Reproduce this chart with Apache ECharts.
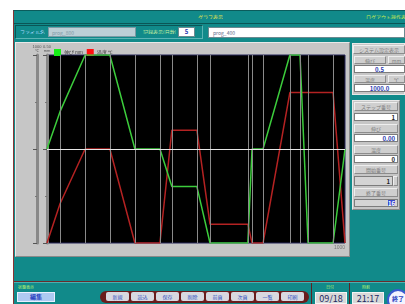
<!DOCTYPE html>
<html>
<head>
<meta charset="utf-8">
<script src="https://cdn.jsdelivr.net/npm/echarts@6/dist/echarts.min.js"></script>
<style>
	html, body { margin: 0; padding: 0; width: 405px; height: 304px; overflow: hidden; background: #fff; }
	body { font-family: "Noto Sans CJK JP", "Noto Sans", sans-serif; position: relative; }
	.a { position: absolute; box-sizing: border-box; white-space: nowrap; overflow: hidden; line-height: 1; }
	.btn { background: #cfcfcf; border: 1px solid #8c8c8c; border-top-color: #eee; border-left-color: #eee; color: #7a7a7a; font-size: 5px; text-align: center; padding-top: 1px; }
	.val { background: #fff; border: 1px solid #7c7c7c; color: #2a3ab0; font-size: 6px; font-weight: bold; padding-top: 1px; }
	.pill { top: 1px; height: 9px; width: 23px; background: #d8d8e0; border-radius: 2px; color: #3050c0; font-size: 5px; text-align: center; padding-top: 2px; }
</style>
</head>
<body>
	<div class="a" style="left:13px;top:10px;width:392px;height:294px;background:#118a8a;border-left:1px solid #8a3434;border-top:1px solid #0b5c5c;"></div>
	<!-- title bar -->
	<div class="a" style="left:14px;top:11px;width:391px;height:13px;border-bottom:1px solid #0a5656;"></div>
	<div class="a" style="left:198px;top:14px;font-size:5px;color:#e4e44c;">グラフ表示</div>
	<div class="a" style="left:366px;top:14px;font-size:5px;color:#c8ec50;">ログアウト操作表示</div>
	<!-- file row -->
	<div class="a" style="left:15px;top:25px;width:188px;height:14px;border:1px solid #0a5656;border-right-color:#5ab4b4;border-bottom-color:#5ab4b4;"></div>
	<div class="a" style="left:20px;top:29px;font-size:5px;color:#a8d8ff;">ファイル名</div>
	<div class="a" style="left:48px;top:27px;width:88px;height:10px;background:#bccfd6;border:1px solid #7a9aa4;font-size:5px;color:#7c98a6;padding:2px 0 0 3px;">prog_800</div>
	<div class="a" style="left:143px;top:29px;font-size:5px;color:#c8f0a0;">記録表示(日数)</div>
	<div class="a" style="left:178px;top:27px;width:17px;height:10px;background:#fff;border:1px solid #6a8a90;font-size:6px;font-weight:bold;color:#2a3ab0;text-align:center;padding-top:1px;">5</div>
	<div class="a" style="left:208px;top:27px;width:197px;height:11px;background:#fff;border:1px solid #6a8a90;font-size:5px;color:#5a6a8a;padding:2px 0 0 4px;">prog_400</div>
	<!-- chart panel -->
	<div class="a" style="left:15px;top:42px;width:335px;height:215px;background:#c6c6c6;border:1px solid #8a8a8a;border-top-color:#e8e8e8;border-left-color:#e8e8e8;"></div>
	<div id="chart" class="a" style="left:15px;top:42px;width:334px;height:214px;"></div>
	<!-- right panel: system settings -->
	<div class="a" style="left:352px;top:43px;width:53px;height:52px;background:#c6c6c6;border:1px solid #e8e8e8;"></div>
	<div class="a btn" style="left:353px;top:45px;width:52px;height:9px;">システム設定表示</div>
	<div class="a btn" style="left:354px;top:56px;width:32px;height:8px;">伸び</div>
	<div class="a btn" style="left:388px;top:56px;width:17px;height:8px;">mm</div>
	<div class="a val" style="left:354px;top:65px;width:51px;height:8px;text-align:center;">0.5</div>
	<div class="a btn" style="left:354px;top:75px;width:32px;height:8px;">温度</div>
	<div class="a btn" style="left:388px;top:75px;width:17px;height:8px;">℃</div>
	<div class="a val" style="left:354px;top:84px;width:51px;height:8px;text-align:center;">1000.0</div>
	<!-- right panel: step -->
	<div class="a" style="left:352px;top:100px;width:48px;height:110px;background:#c6c6c6;border:1px solid #e8e8e8;border-right-color:#888;border-bottom-color:#888;"></div>
	<div class="a btn" style="left:354px;top:102px;width:44px;height:9px;">ステップ番号</div>
	<div class="a val" style="left:354px;top:113px;width:44px;height:8px;text-align:right;padding-right:2px;color:#222;">1</div>
	<div class="a btn" style="left:354px;top:124px;width:44px;height:9px;">伸び</div>
	<div class="a val" style="left:354px;top:134px;width:44px;height:8px;text-align:right;padding-right:2px;">0.00</div>
	<div class="a btn" style="left:354px;top:145px;width:44px;height:9px;">温度</div>
	<div class="a val" style="left:354px;top:155px;width:44px;height:8px;text-align:right;padding-right:2px;color:#222;">0</div>
	<div class="a btn" style="left:354px;top:165px;width:44px;height:9px;">開始番号</div>
	<div class="a val" style="left:354px;top:176px;width:39px;height:10px;text-align:right;padding:2px 2px 0 0;color:#222;background:#d4d4d4;">1</div>
	<div class="a btn" style="left:393px;top:176px;width:5px;height:10px;"></div>
	<div class="a btn" style="left:354px;top:188px;width:44px;height:9px;">終了番号</div>
	<div class="a val" style="left:354px;top:199px;width:44px;height:8px;text-align:right;padding-right:2px;background:#d4d4d4;"><span style="background:#3a4ad0;color:#fff;">16</span></div>
	<!-- bottom bar -->
	<div class="a" style="left:14px;top:281px;width:391px;height:2px;background:#6a2c2c;border-bottom:1px solid #4cb0b0;"></div>
	<div class="a" style="left:18px;top:285px;font-size:4px;color:#b8f070;">状態表示</div>
	<div class="a" style="left:17px;top:292px;width:38px;height:10px;background:#aecaf2;border:1px solid #e8f0ff;font-size:6px;font-weight:bold;color:#2840c0;text-align:center;padding-top:1px;">編集</div>
	<div class="a" id="pills" style="left:100px;top:291px;width:209px;height:12px;background:#6a1c1c;border-radius:6px;"></div>
	<div class="a" style="left:311px;top:283px;width:1px;height:21px;background:#5a2424;"></div>
	<div class="a" style="left:326px;top:285px;font-size:4px;color:#b8f070;">日付</div>
	<div class="a" style="left:315px;top:292px;width:32px;height:12px;background:#d8d8d8;border:1px solid #f4f4f4;font-size:9px;color:#1c2660;text-align:center;padding-top:1px;">09/18</div>
	<div class="a" style="left:349px;top:283px;width:1px;height:21px;background:#5a2424;"></div>
	<div class="a" style="left:362px;top:285px;font-size:4px;color:#b8f070;">時刻</div>
	<div class="a" style="left:352px;top:292px;width:32px;height:12px;background:#d8d8d8;border:1px solid #f4f4f4;font-size:9px;color:#1c2660;text-align:center;padding-top:1px;">21:17</div>
	<div class="a" style="left:387px;top:289px;width:22px;height:22px;border-radius:11px;background:#f4f4ff;border:2px solid #3a5ad0;font-size:6px;font-weight:bold;color:#2840c0;padding:5px 0 0 3px;">終了</div>
<script>
	// step program (time, extension mm, temperature C)
	var stepTimes = [0, 44, 128, 211, 295, 379, 419, 503, 547, 674, 688, 725, 815, 849, 876, 960, 1000];
	var extension = [0.25, 0.35, 0.5, 0.5, 0.25, 0.25, 0.15, 0.15, 0, 0, 0.25, 0.25, 0.5, 0.5, 0, 0, 0.25];
	var temperature = [0, 210, 500, 500, 0, 0, 600, 600, 100, 100, 0, 0, 800, 800, 800, 800, 0];
	var legendNames = ['伸び mm', '温度 ℃'];
	var pillLabels = ['新規', '読込', '保存', '削除', '前頁', '次頁', '一覧', '印刷'];

	var pills = document.getElementById('pills');
	for(var i = 0; i < pillLabels.length; i++) {
		var p = document.createElement('div');
		p.className = 'a pill';
		p.style.left = (6 + i * 25) + 'px';
		p.textContent = pillLabels[i];
		pills.appendChild(p);
	}

	function pairs(ys) {
		var out = [];
		for(var i = 0; i < stepTimes.length; i++) {
			out.push([stepTimes[i], ys[i]]);
		}
		return out;
	}

	var stepLines = [];
	for(var j = 1; j < stepTimes.length - 1; j++) {
		stepLines.push({ xAxis: stepTimes[j] });
	}
	stepLines.push({ yAxis: 0.25, lineStyle: { color: '#e6e6e6' } });

	var stripAxis = function(offset, max, name) {
		return {
			type: 'value',
			position: 'left',
			offset: offset,
			min: 0,
			max: max,
			interval: max / 2,
			name: name,
			nameLocation: 'end',
			nameGap: 2,
			nameTextStyle: { fontSize: 4, color: '#555', lineHeight: 4, align: 'center' },
			axisLine: { show: true, lineStyle: { color: '#888', width: 3 } },
			axisTick: { show: true, length: 4, lineStyle: { color: '#555' } },
			minorTick: { show: true, splitNumber: 2, length: 2, lineStyle: { color: '#777' } },
			axisLabel: { show: false },
			splitLine: { show: false }
		};
	};

	var chart = echarts.init(document.getElementById('chart'));
	chart.setOption({
		animation: false,
		legend: {
			data: legendNames,
			left: 34,
			top: 2,
			icon: 'rect',
			itemWidth: 7,
			itemHeight: 7,
			itemGap: 4,
			textStyle: { fontSize: 4.5, color: '#333', padding: [0, 0, 0, -2] }
		},
		grid: {
			left: 32,
			top: 13,
			right: 4,
			bottom: 13,
			show: true,
			backgroundColor: '#000',
			borderColor: '#26265a',
			borderWidth: 1
		},
		xAxis: {
			type: 'value',
			min: 0,
			max: 1000,
			interval: 1000,
			axisLine: { show: false },
			axisTick: { show: false },
			splitLine: { show: false },
			axisLabel: {
				fontSize: 5,
				color: '#777',
				margin: 2,
				align: 'right',
				formatter: function(v) { return v === 1000 ? '1000' : ''; }
			}
		},
		yAxis: [stripAxis(22, 0.5, '0.50\nmm'), stripAxis(10, 1000, '1000\n℃')],
		series: [{
				name: 'steps',
				type: 'line',
				yAxisIndex: 0,
				data: [],
				z: 1,
				markLine: {
					silent: true,
					symbol: ['none', 'none'],
					label: { show: false },
					lineStyle: { color: '#8a8a8a', type: 'solid', width: 1 },
					data: stepLines
				}
			},
			{
				name: legendNames[1],
				type: 'line',
				yAxisIndex: 1,
				showSymbol: false,
				z: 3,
				itemStyle: { color: '#ff1010' },
				lineStyle: { color: '#b42222', width: 1.5 },
				data: pairs(temperature)
			},
			{
				name: legendNames[0],
				type: 'line',
				yAxisIndex: 0,
				showSymbol: false,
				z: 4,
				itemStyle: { color: '#18f018' },
				lineStyle: { color: '#3ccc3c', width: 1.5 },
				data: pairs(extension)
			}
		]
	});
</script>
</body>
</html>
